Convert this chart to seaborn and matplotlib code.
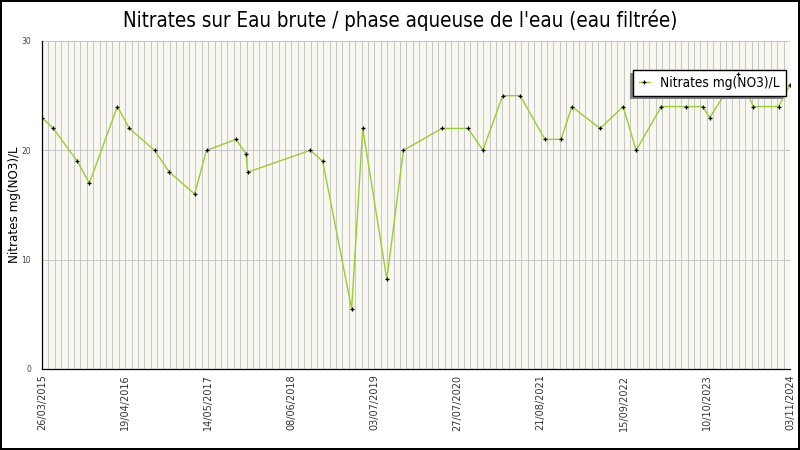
import matplotlib
matplotlib.use("Agg")
import matplotlib.pyplot as plt
import matplotlib.dates as mdates
import matplotlib.transforms as mtransforms
from matplotlib.lines import Line2D
from matplotlib.patches import Rectangle
import seaborn as sns
import pandas as pd
import numpy as np

dates = ["2015-03-26", "2015-05-18", "2015-09-08", "2015-11-03", "2016-03-14",
         "2016-05-09", "2016-09-04", "2016-11-13", "2017-03-11", "2017-05-06",
         "2017-09-21", "2017-11-07", "2017-11-15", "2018-09-05", "2018-11-02",
         "2019-03-18", "2019-05-09", "2019-08-30", "2019-11-16", "2020-05-14",
         "2020-09-14", "2020-11-23", "2021-02-24", "2021-05-17", "2021-09-10",
         "2021-11-25", "2022-01-14", "2022-05-27", "2022-09-12", "2022-11-12",
         "2023-03-10", "2023-07-02", "2023-09-20", "2023-10-23", "2024-03-04",
         "2024-05-15", "2024-09-11", "2024-11-03"]
nitrates = [23, 22, 19, 17, 24, 22, 20, 18, 16, 20,
            21, 19.7, 18, 20, 19, 5.5, 22, 8.2, 20, 22,
            22, 20, 25, 25, 21, 21, 24, 22, 24, 20,
            24, 24, 24, 23, 27, 24, 24, 26]
series_label = "Nitrates mg(NO3)/L"
title = "Nitrates sur Eau brute / phase aqueuse de l'eau (eau filtrée)"
ylabel = "Nitrates mg(NO3)/L"
start_date = "2015-03-26"
end_date = "2024-11-03"

df = pd.DataFrame({"date": pd.to_datetime(dates), "value": nitrates})

sns.set_style("white")
plt.rcParams["font.family"] = ["DejaVu Sans"]

fig = plt.figure(figsize=(8, 4.5), dpi=100)
ax = fig.add_axes([42/800, 1-369/450, (790-42)/800, (369-41)/450])
ax.set_facecolor("#f8f8f0")

line_color = "#9acd32"
sns.lineplot(data=df, x="date", y="value", ax=ax, color=line_color,
             linewidth=1.0, zorder=3, legend=False)
sns.scatterplot(data=df, x="date", y="value", ax=ax, marker="+", color="black",
                s=9, linewidth=0.9, zorder=7, legend=False)

x0 = pd.Timestamp(start_date)
x1 = pd.Timestamp(end_date)
ax.set_xlim(x0, x1)
ax.set_ylim(0, 30)

major = [x0 + pd.Timedelta(days=390*k) for k in range(10)]
minor = [x0 + pd.Timedelta(days=30*k) for k in range(118)]
ax.xaxis.set_major_locator(matplotlib.ticker.FixedLocator(mdates.date2num(major)))
ax.xaxis.set_minor_locator(matplotlib.ticker.FixedLocator(mdates.date2num(minor)))
ax.xaxis.set_major_formatter(mdates.DateFormatter("%d/%m/%Y"))
ax.set_yticks([0, 10, 20, 30])
ax.yaxis.set_minor_locator(matplotlib.ticker.MultipleLocator(2.5))

grid_kw = dict(color="#c8c8c8", linewidth=0.75)
ax.grid(True, which="minor", axis="x", **grid_kw)
ax.grid(True, which="major", axis="x", **grid_kw)
ax.grid(True, which="major", axis="y", **grid_kw)
ax.set_axisbelow(True)

for s in ["top", "right"]:
    ax.spines[s].set_visible(False)
for s in ["left", "bottom"]:
    ax.spines[s].set_color("black")
    ax.spines[s].set_linewidth(0.9)
    ax.spines[s].set_zorder(8)

ax.tick_params(axis="x", which="both", direction="in", length=4, width=0.75,
               color="black", labelsize=7, labelcolor="#333333", rotation=90, pad=4)
ax.tick_params(axis="y", which="both", direction="in", length=4, width=0.75,
               color="black", labelsize=5.5, labelcolor="#444444", pad=8)
ax.tick_params(axis="x", which="minor", labelbottom=False)

ax.set_xlabel("")
ax.set_ylabel(ylabel, fontsize=9.5, fontstretch="condensed", color="black")
ax.yaxis.set_label_coords(-0.028, 0.5)

handle = Line2D([0], [0], color=line_color, linewidth=1.0, marker="+",
                markeredgecolor="black", markersize=3, markeredgewidth=0.9)
leg = ax.legend([handle], [series_label], loc="upper right",
                bbox_to_anchor=(785.5, 450 - 69.5),
                bbox_transform=mtransforms.IdentityTransform(),
                frameon=True, fancybox=False, shadow=False,
                prop={"size": 9.8, "stretch": "condensed"},
                handlelength=0.8, handletextpad=0.75, borderpad=0.45,
                borderaxespad=0.0, labelcolor="black")
leg.get_frame().set_edgecolor("black")
leg.get_frame().set_linewidth(1.0)
leg.get_frame().set_alpha(1.0)
leg.set_zorder(6)

fig.text(0.5, 1-20/450, title, ha="center", va="center", fontsize=14.8,
         fontstretch="condensed", color="black")

fig.add_artist(Rectangle((1.0, 1.0), 798, 448,
                         transform=mtransforms.IdentityTransform(),
                         fill=False, edgecolor="black", linewidth=1.2,
                         antialiased=False))

fig.canvas.draw()
bb = leg.get_window_extent()
shadow = Rectangle((bb.x0 - 3, bb.y0 - 3), bb.width, bb.height,
                   transform=mtransforms.IdentityTransform(),
                   facecolor="#808080", edgecolor="none", zorder=5.5)
shadow.set_clip_on(False)
ax.add_artist(shadow)

fig.savefig("out.png", dpi=100)
